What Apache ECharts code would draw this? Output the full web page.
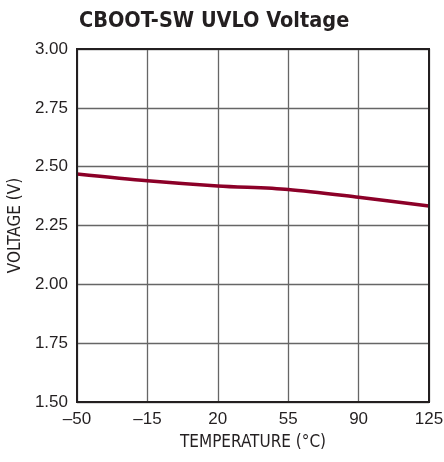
<!DOCTYPE html>
<html><head><meta charset="utf-8">
<script src="https://cdn.jsdelivr.net/npm/echarts@6/dist/echarts.min.js"></script>
<style>html,body{margin:0;padding:0;background:#fff}#c{width:444px;height:462px}</style>
</head><body><div id="c"></div>
<script>
const temps = [-50, -15, 20, 55, 90, 125];
const voltage = [2.469, 2.44, 2.418, 2.403, 2.37, 2.333];
const xTicks = [-50, -15, 20, 55, 90, 125];
const yTicks = [1.5, 1.75, 2.0, 2.25, 2.5, 2.75, 3.0];
const titleText = 'CBOOT-SW UVLO Voltage';
const xName = 'TEMPERATURE (°C)';
const yName = 'VOLTAGE (V)';

const narrow = '"DejaVu Sans Condensed", "Liberation Sans Narrow", Roboto, sans-serif';
const chart = echarts.init(document.getElementById('c'), null, {renderer:'canvas'});
chart.setOption({
  animation: false,
  title: { text: titleText, left: 74, top: 5,
    textStyle: { fontFamily: narrow, fontWeight: 'bold', fontSize: 21.5, color: '#231f20' } },
  grid: { left: 77, right: 15, top: 49, bottom: 60, outerBoundsMode: 'none', containLabel: false },
  xAxis: { type: 'value', min: -50, max: 125, interval: 35,
    name: xName, nameLocation: 'middle', nameGap: 32,
    nameTextStyle: { fontFamily: narrow, fontSize: 17, color: '#231f20' },
    axisLine: { show: true, onZero: false, lineStyle: { color: '#231f20', width: 2 } },
    axisTick: { show: false },
    axisLabel: { fontFamily: 'Liberation Sans', fontSize: 17, color: '#231f20', margin: 9,
      formatter: v => xTicks.includes(v) ? String(v).replace('-', '\u2013') : '' },
    splitLine: { show: true, lineStyle: { color: '#666', width: 1.3 } } },
  yAxis: { type: 'value', min: 1.5, max: 3.0, interval: 0.25,
    name: yName, nameLocation: 'middle', nameGap: 52, nameRotate: 90,
    nameTextStyle: { fontFamily: narrow, fontSize: 17, color: '#231f20' },
    axisLine: { show: true, onZero: false, lineStyle: { color: '#231f20', width: 2 } },
    axisTick: { show: false },
    axisLabel: { fontFamily: 'Liberation Sans', fontSize: 17, color: '#231f20', margin: 9,
      formatter: v => yTicks.some(t => Math.abs(t - v) < 1e-9) ? v.toFixed(2) : '' },
    splitLine: { show: true, lineStyle: { color: '#666', width: 1.3 } } },
  series: [{ type: 'line', data: temps.map((t, i) => [t, voltage[i]]),
    smooth: 0.3, symbol: 'none', lineStyle: { color: '#8c0028', width: 3.5 } }],
  graphic: [{ type: 'rect', shape: { x: 77, y: 49, width: 352, height: 353 },
    style: { fill: 'none', stroke: '#231f20', lineWidth: 2 }, z: 10 }]
});
</script></body></html>
